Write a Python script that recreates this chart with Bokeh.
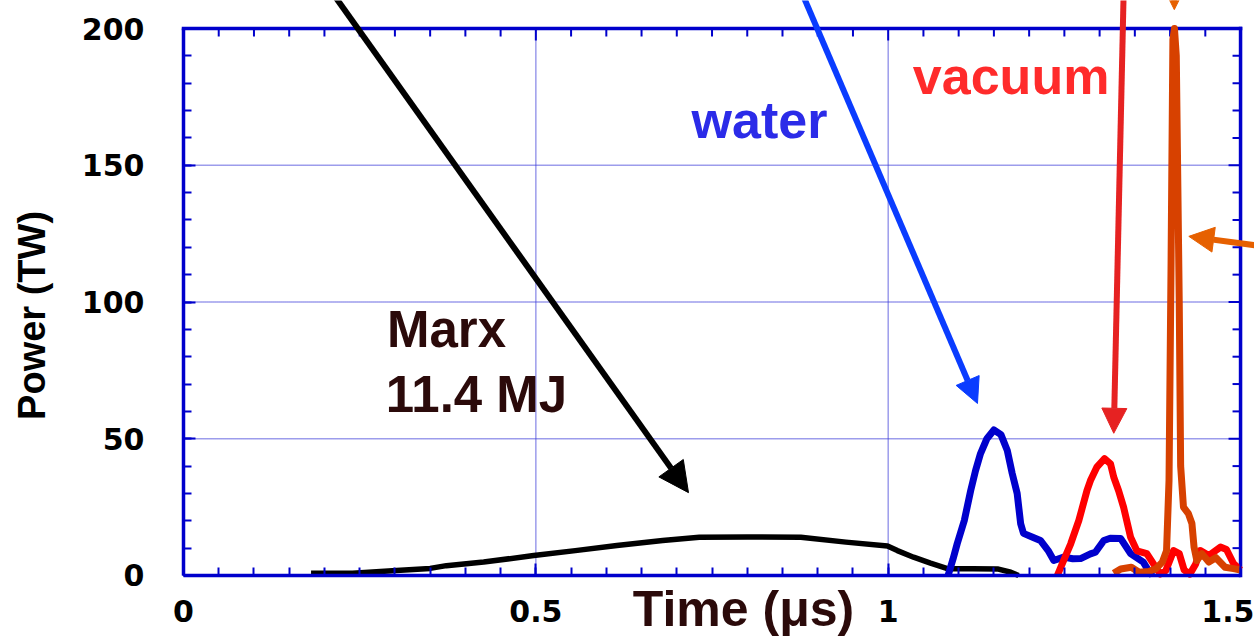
import math
from bokeh.plotting import figure
from bokeh.models import (Range1d, SingleIntervalTicker, Arrow, NormalHead, Label,
                          NumeralTickFormatter)
from bokeh.embed import file_html
from bokeh.resources import INLINE

# ---------------- data (time in microseconds, power in TW) ----------------
marx_t = [0.181, 0.24, 0.302, 0.35, 0.373, 0.426, 0.497, 0.556, 0.615, 0.68, 0.732,
          0.80, 0.876, 0.94, 0.999, 1.013, 1.036, 1.06, 1.084, 1.12, 1.155, 1.174, 1.185]
marx_p = [0.8, 0.8, 1.8, 2.6, 3.6, 4.9, 7.3, 9.1, 11.0, 12.8, 14.0,
          14.1, 14.0, 12.2, 10.8, 9.1, 6.7, 4.5, 2.5, 2.5, 2.4, 1.2, 0.0]

water_t = [1.085, 1.092, 1.098, 1.108, 1.117, 1.124, 1.131, 1.140, 1.150, 1.160, 1.169,
           1.176, 1.183, 1.188, 1.192, 1.205, 1.216, 1.227, 1.235, 1.249, 1.262, 1.273,
           1.287, 1.294, 1.306, 1.315, 1.330, 1.344, 1.362, 1.370, 1.375]
water_p = [0.0, 6.0, 11.7, 20.1, 31.0, 38.4, 44.6, 50.0, 53.2, 51.5, 45.7,
           37.3, 30.0, 18.9, 15.4, 14.0, 12.8, 9.1, 5.5, 6.7, 6.1, 6.2,
           7.9, 8.5, 12.8, 13.6, 13.5, 8.0, 4.9, 1.5, 0.0]

vacuum_t = [1.240, 1.249, 1.259, 1.2705, 1.282, 1.287, 1.296, 1.307, 1.3155, 1.320, 1.327,
            1.334, 1.344, 1.353, 1.367, 1.376, 1.386, 1.394, 1.405, 1.413, 1.420, 1.428,
            1.436, 1.443, 1.455, 1.4715, 1.480, 1.490, 1.500]
vacuum_p = [0.0, 5.5, 11.6, 20.1, 31.0, 34.7, 39.6, 42.7, 40.8, 36.0, 31.0,
            25.0, 14.0, 9.0, 8.0, 4.4, 0.5, 1.8, 9.1, 8.0, 2.0, 0.5,
            4.0, 9.1, 7.3, 10.4, 9.5, 4.4, 2.0]

load_t = [1.320, 1.330, 1.345, 1.356, 1.370, 1.380, 1.389, 1.395, 1.3985, 1.4014, 1.4040,
          1.4062, 1.4088, 1.4130, 1.4150, 1.4190, 1.426, 1.431, 1.434, 1.438, 1.445,
          1.455, 1.465, 1.478, 1.490, 1.500]
load_p = [0.8, 2.4, 3.0, 1.2, 1.5, 2.5, 4.9, 9.1, 34.7, 114.0, 196.0,
          200.0, 190.0, 100.0, 40.0, 25.0, 22.6, 19.0, 10.4, 5.5, 8.0,
          4.9, 6.5, 3.0, 2.5, 2.0]

x_major_ticks = [0.0, 0.5, 1.0, 1.5]
y_major_ticks = [0, 50, 100, 150, 200]
x_minor_step = 0.05
y_minor_step = 10

# ---------------- style ----------------
AXIS_BLUE = "#0000cc"
GRID_BLUE = "#3a3ad8"
TICK_FONT = "DejaVu Sans"
TEXT_FONT = "Liberation Sans"

W, H = 1254, 637
# the frame fills the whole canvas; the box (0..1.5, 0..200) sits inside it
X_START, X_END = -0.25968, 1.51980
Y_START, Y_END = -22.67, 210.24

p = figure(width=W, height=H, output_backend="svg", toolbar_location=None,
           x_range=Range1d(X_START, X_END), y_range=Range1d(Y_START, Y_END),
           min_border_left=0, min_border_right=0, min_border_top=0, min_border_bottom=0)
p.outline_line_color = None
p.background_fill_color = "white"
p.border_fill_color = "white"
p.xgrid.visible = False
p.ygrid.visible = False

dx_px = (X_END - X_START) / W
dy_px = (Y_END - Y_START) / H

x0, x1 = x_major_ticks[0], x_major_ticks[-1]
y0, y1 = y_major_ticks[0], y_major_ticks[-1]

# ---- axes (left & bottom) pinned to the box edges ----
for ax in (p.xaxis[0], p.yaxis[0]):
    ax.axis_line_color = AXIS_BLUE
    ax.axis_line_width = 3.5
    ax.major_tick_line_color = AXIS_BLUE
    ax.minor_tick_line_color = AXIS_BLUE
    ax.major_tick_line_width = 2
    ax.minor_tick_line_width = 2
    ax.major_tick_in = 12
    ax.major_tick_out = 0
    ax.minor_tick_in = 8
    ax.minor_tick_out = 0
    ax.major_label_text_font = TICK_FONT
    ax.major_label_text_font_style = "bold"
    ax.major_label_text_font_size = "30px"
    ax.major_label_text_color = "black"
    ax.axis_label = None

p.xaxis[0].ticker = SingleIntervalTicker(interval=0.5, num_minor_ticks=10)
p.xaxis[0].formatter = NumeralTickFormatter(format="0.[0]")
p.xaxis[0].bounds = (x0, x1)
p.xaxis[0].fixed_location = y0
p.xaxis[0].major_label_standoff = 25

p.yaxis[0].ticker = SingleIntervalTicker(interval=50, num_minor_ticks=5)
p.yaxis[0].bounds = (y0, y1)
p.yaxis[0].fixed_location = x0
p.yaxis[0].major_label_standoff = 39

# ---- dotted grid (inside the box only) ----
gx = [v for v in x_major_ticks if x0 < v < x1]
gy = [v for v in y_major_ticks if y0 < v < y1]
p.segment(x0=gx, y0=[y0] * len(gx), x1=gx, y1=[y1] * len(gx),
          line_color=GRID_BLUE, line_width=1.5, line_dash="1 1")
p.segment(x0=[x0] * len(gy), y0=gy, x1=[x1] * len(gy), y1=gy,
          line_color=GRID_BLUE, line_width=1.5, line_dash="1 1")

# ---- top and right edges of the box with inward ticks ----
p.segment(x0=[x0, x1], y0=[y1, y0], x1=[x1, x1], y1=[y1, y1],
          line_color=AXIS_BLUE, line_width=3.5, line_cap="square")

n_x = int(round((x1 - x0) / x_minor_step))
top_ticks = [x0 + i * x_minor_step for i in range(1, n_x)]
top_len = [(12 if any(abs(t - m) < 1e-9 for m in x_major_ticks) else 8) * dy_px for t in top_ticks]
p.segment(x0=top_ticks, y0=[y1] * len(top_ticks), x1=top_ticks,
          y1=[y1 - L for L in top_len], line_color=AXIS_BLUE, line_width=2)

n_y = int(round((y1 - y0) / y_minor_step))
right_ticks = [y0 + i * y_minor_step for i in range(1, n_y)]
right_len = [(12 if v in y_major_ticks else 8) * dx_px for v in right_ticks]
p.segment(x0=[x1] * len(right_ticks), y0=right_ticks, x1=[x1 - L for L in right_len],
          y1=right_ticks, line_color=AXIS_BLUE, line_width=2)

# ---- curves ----
p.line(marx_t, marx_p, line_color="black", line_width=5.5, line_join="round")
p.line(water_t, water_p, line_color="#0000cc", line_width=7, line_join="round")
p.line(vacuum_t, vacuum_p, line_color="#ff0000", line_width=7, line_join="round")
p.line(load_t, load_p, line_color="#d74100", line_width=7, line_join="round")

# ---- arrows ----
def add_arrow(xs, ys, xe, ye, color, width, size):
    p.add_layout(Arrow(end=NormalHead(size=size, fill_color=color, line_color=color, line_width=1),
                       x_start=xs, y_start=ys, x_end=xe, y_end=ye,
                       line_color=color, line_width=width))

add_arrow(0.1987, 217.6, 0.7166, 30.3, "black", 6, 30)
add_arrow(0.870, 217.6, 1.1267, 62.9, "#0a3cff", 6, 25)
add_arrow(1.3345, 217.6, 1.3201, 52.0, "#e62222", 6, 25)
add_arrow(1.571, 119.0, 1.4266, 124.0, "#e66000", 6, 25)
add_arrow(1.4060, 240.0, 1.4060, 206.9, "#e66000", 6, 22)

# ---- texts ----
def add_text(x, y, text, color, size, angle=0.0, align="left"):
    p.add_layout(Label(x=x, y=y, text=text, text_color=color, text_font=TEXT_FONT,
                       text_font_style="bold", text_font_size=size, angle=angle,
                       text_align=align, text_baseline="alphabetic"))

add_text(0.2888, 89.8, "Marx", "#2b0a0a", "51px")
add_text(0.2870, 66.0, "11.4 MJ", "#2b0a0a", "51px")
add_text(0.7210, 166.7, "water", "#2b2be8", "52px")
add_text(1.0350, 182.5, "vacuum", "#ff2b2b", "52px")
add_text(0.7947, -12.1, "Time (μs)", "#2b0a0a", "50px", align="center")
add_text(-0.2156, 95.1, "Power (TW)", "black", "38px", angle=math.pi / 2, align="center")

open("out.html", "w").write(file_html(p, INLINE))
